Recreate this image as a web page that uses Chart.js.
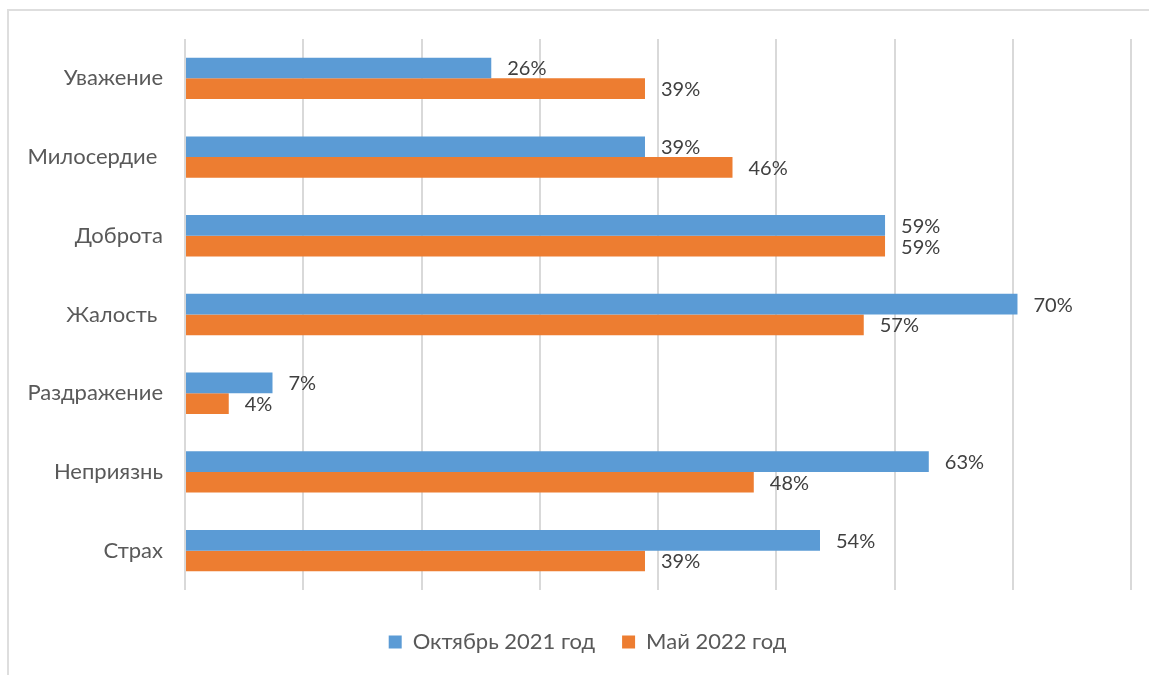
<!DOCTYPE html>
<html>
<head>
<meta charset="utf-8">
<script src="https://cdn.jsdelivr.net/npm/chart.js@4/dist/chart.umd.min.js"></script>
<style>
  body { margin: 0; background: #fff; overflow: hidden; }
  #frame { position: absolute; left: 7px; top: 9px; width: 1200px; height: 700px; border: 2px solid #DEDEDE; box-sizing: border-box; }
  #myChart { position: absolute; left: 0; top: 0; }
</style>
</head>
<body>
<div id="frame"></div>
<canvas id="myChart" width="1149" height="675"></canvas>
<script>
var categories = ['Уважение', 'Милосердие ', 'Доброта', 'Жалость ', 'Раздражение', 'Неприязнь', 'Страх'];
// bar lengths, in percent (labels show them rounded)
var oct2021 = [25.9, 38.9, 59.2, 70.4, 7.4, 62.9, 53.7];
var may2022 = [38.9, 46.3, 59.2, 57.4, 3.7, 48.1, 38.9];
var seriesNames = ['Октябрь 2021 год   ', 'Май 2022 год'];

var color1 = '#5B9BD5';
var color2 = '#ED7D31';
var fontName = 'Lato';

// value labels at the end of each bar
var barLabels = {
    id: 'barLabels',
    afterDatasetsDraw: function (chart) {
        var ctx = chart.ctx;
        ctx.save();
        ctx.font = '20px ' + fontName;
        ctx.fillStyle = '#404040';
        ctx.textBaseline = 'middle';
        ctx.textAlign = 'left';
        chart.data.datasets.forEach(function (ds, i) {
            chart.getDatasetMeta(i).data.forEach(function (bar, j) {
                ctx.fillText(Math.round(ds.data[j]) + '%', bar.x + 16, bar.y + 1);
            });
        });
        ctx.restore();
    }
};

// centre the legend a bit further right, like the original
var legendShift = {
    id: 'legendShift',
    beforeDraw: function (chart) {
        if (chart.legend) {
            chart.legend.left = 44;
        }
    }
};

var ctx = document.getElementById('myChart').getContext('2d');
var chart = new Chart(ctx, {
    type: 'bar',
    data: {
        labels: categories,
        datasets: [{
                label: seriesNames[0],
                data: oct2021,
                backgroundColor: color1,
                categoryPercentage: 0.525,
                barPercentage: 1.0
            },
            {
                label: seriesNames[1],
                data: may2022,
                backgroundColor: color2,
                categoryPercentage: 0.525,
                barPercentage: 1.0
            }
        ]
    },
    options: {
        indexAxis: 'y',
        responsive: false,
        animation: false,
        devicePixelRatio: 1,
        layout: { padding: { left: 0, right: 18, top: 39, bottom: 12 } },
        plugins: {
            tooltip: { enabled: false },
            legend: {
                position: 'bottom',
                labels: {
                    boxWidth: 13,
                    boxHeight: 13,
                    padding: 10,
                    color: '#595959',
                    font: { family: fontName, size: 22 }
                }
            }
        },
        scales: {
            x: {
                min: 0,
                max: 80,
                ticks: { display: false, stepSize: 10 },
                grid: { color: '#D9D9D9', lineWidth: 2, drawTicks: false },
                border: { display: false },
                afterFit: function (s) { s.height = 31; }
            },
            y: {
                grid: { display: false, drawTicks: false },
                border: { display: false },
                ticks: { color: '#595959', padding: 22, font: { family: fontName, size: 22 } },
                afterFit: function (s) { s.width = 185; }
            }
        }
    },
    plugins: [barLabels, legendShift]
});
</script>
</body>
</html>
